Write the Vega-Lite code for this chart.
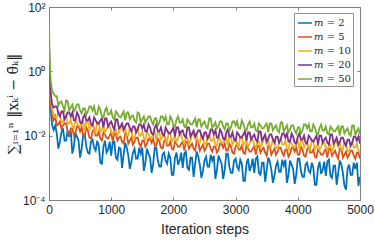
{
"$schema": "https://vega.github.io/schema/vega-lite/v6.json",
"width": 311, "height": 193,
"autosize": {"type": "none"},
"padding": {"left": 49, "top": 7, "right": 15, "bottom": 40},
"background": "white",
"config": {
 "view": {"stroke": "#808080", "strokeWidth": 1},
 "axis": {"domainColor": "#808080", "tickColor": "#808080", "labelColor": "#262626", "titleColor": "#262626", "labelFont": "Liberation Sans", "titleFont": "Liberation Sans", "labelFontSize": 12, "titleFontSize": 14, "titleFontWeight": "normal", "grid": false, "tickSize": -3, "labelPadding": 7, "labelFlush": false}
},
"data": {"values": [
{"m":2,"t":0,"v":4.9},{"m":2,"t":10,"v":0.28},{"m":2,"t":25,"v":0.075},{"m":2,"t":50,"v":0.021},{"m":2,"t":75,"v":0.015},
{"m":2,"t":100,"v":0.0208},{"m":2,"t":150,"v":0.00395},{"m":2,"t":200,"v":0.0126},{"m":2,"t":250,"v":0.007},{"m":2,"t":300,"v":0.0145},{"m":2,"t":350,"v":0.0145},{"m":2,"t":400,"v":0.00456},{"m":2,"t":450,"v":0.00931},{"m":2,"t":500,"v":0.00208},{"m":2,"t":550,"v":0.0109},
{"m":2,"t":600,"v":0.00456},{"m":2,"t":650,"v":0.00276},{"m":2,"t":700,"v":0.00751},{"m":2,"t":750,"v":0.00342},{"m":2,"t":800,"v":0.00489},{"m":2,"t":850,"v":0.00135},{"m":2,"t":900,"v":0.007},{"m":2,"t":950,"v":0.00368},{"m":2,"t":1000,"v":0.00239},{"m":2,"t":1050,"v":0.00651},
{"m":2,"t":1100,"v":0.0018},{"m":2,"t":1150,"v":0.00395},{"m":2,"t":1200,"v":0.00257},{"m":2,"t":1250,"v":0.00424},{"m":2,"t":1300,"v":0.000931},{"m":2,"t":1350,"v":0.00297},{"m":2,"t":1400,"v":0.00193},{"m":2,"t":1450,"v":0.00424},{"m":2,"t":1500,"v":0.00424},{"m":2,"t":1550,"v":0.00145},
{"m":2,"t":1600,"v":0.00276},{"m":2,"t":1650,"v":0.0007},{"m":2,"t":1700,"v":0.00424},{"m":2,"t":1750,"v":0.00168},{"m":2,"t":1800,"v":0.00109},{"m":2,"t":1850,"v":0.00297},{"m":2,"t":1900,"v":0.00135},{"m":2,"t":1950,"v":0.00208},{"m":2,"t":2000,"v":0.000606},{"m":2,"t":2050,"v":0.00297},
{"m":2,"t":2100,"v":0.00168},{"m":2,"t":2150,"v":0.001},{"m":2,"t":2200,"v":0.00319},{"m":2,"t":2250,"v":0.000867},{"m":2,"t":2300,"v":0.00208},{"m":2,"t":2350,"v":0.00135},{"m":2,"t":2400,"v":0.00223},{"m":2,"t":2450,"v":0.000489},{"m":2,"t":2500,"v":0.00168},{"m":2,"t":2550,"v":0.00109},
{"m":2,"t":2600,"v":0.00257},{"m":2,"t":2650,"v":0.00239},{"m":2,"t":2700,"v":0.000867},{"m":2,"t":2750,"v":0.0018},{"m":2,"t":2800,"v":0.000456},{"m":2,"t":2850,"v":0.00276},{"m":2,"t":2900,"v":0.00109},{"m":2,"t":2950,"v":0.0007},{"m":2,"t":3000,"v":0.00193},{"m":2,"t":3050,"v":0.000867},
{"m":2,"t":3100,"v":0.00135},{"m":2,"t":3150,"v":0.000395},{"m":2,"t":3200,"v":0.00193},{"m":2,"t":3250,"v":0.00109},{"m":2,"t":3300,"v":0.0007},{"m":2,"t":3350,"v":0.00223},{"m":2,"t":3400,"v":0.000606},{"m":2,"t":3450,"v":0.00145},{"m":2,"t":3500,"v":0.000867},{"m":2,"t":3550,"v":0.00156},
{"m":2,"t":3600,"v":0.000342},{"m":2,"t":3650,"v":0.00117},{"m":2,"t":3700,"v":0.000751},{"m":2,"t":3750,"v":0.0018},{"m":2,"t":3800,"v":0.0018},{"m":2,"t":3850,"v":0.000606},{"m":2,"t":3900,"v":0.00126},{"m":2,"t":3950,"v":0.000319},{"m":2,"t":4000,"v":0.00193},{"m":2,"t":4050,"v":0.000807},
{"m":2,"t":4100,"v":0.000526},{"m":2,"t":4150,"v":0.00145},{"m":2,"t":4200,"v":0.0007},{"m":2,"t":4250,"v":0.001},{"m":2,"t":4300,"v":0.000297},{"m":2,"t":4350,"v":0.00156},{"m":2,"t":4400,"v":0.000867},{"m":2,"t":4450,"v":0.000565},{"m":2,"t":4500,"v":0.0018},{"m":2,"t":4550,"v":0.000489},
{"m":2,"t":4600,"v":0.00117},{"m":2,"t":4650,"v":0.0007},{"m":2,"t":4700,"v":0.00126},{"m":2,"t":4750,"v":0.000276},{"m":2,"t":4800,"v":0.000931},{"m":2,"t":4850,"v":0.000606},{"m":2,"t":4900,"v":0.00145},{"m":2,"t":4950,"v":0.00145},{"m":2,"t":5000,"v":0.000526},
{"m":2,"t":125,"v":0.0117},{"m":2,"t":175,"v":0.00651},{"m":2,"t":225,"v":0.0168},{"m":2,"t":275,"v":0.007},{"m":2,"t":325,"v":0.00931},{"m":2,"t":375,"v":0.00276},{"m":2,"t":425,"v":0.0126},{"m":2,"t":475,"v":0.007},{"m":2,"t":525,"v":0.00395},{"m":2,"t":575,"v":0.0109},
{"m":2,"t":625,"v":0.00297},{"m":2,"t":675,"v":0.00651},{"m":2,"t":725,"v":0.00424},{"m":2,"t":775,"v":0.007},{"m":2,"t":825,"v":0.00145},{"m":2,"t":875,"v":0.00456},{"m":2,"t":925,"v":0.00297},{"m":2,"t":975,"v":0.00651},{"m":2,"t":1025,"v":0.00651},{"m":2,"t":1075,"v":0.00208},
{"m":2,"t":1125,"v":0.00424},{"m":2,"t":1175,"v":0.001},{"m":2,"t":1225,"v":0.00606},{"m":2,"t":1275,"v":0.00239},{"m":2,"t":1325,"v":0.00156},{"m":2,"t":1375,"v":0.00395},{"m":2,"t":1425,"v":0.00193},{"m":2,"t":1475,"v":0.00276},{"m":2,"t":1525,"v":0.000807},{"m":2,"t":1575,"v":0.00395},
{"m":2,"t":1625,"v":0.00208},{"m":2,"t":1675,"v":0.00135},{"m":2,"t":1725,"v":0.00424},{"m":2,"t":1775,"v":0.00109},{"m":2,"t":1825,"v":0.00257},{"m":2,"t":1875,"v":0.00168},{"m":2,"t":1925,"v":0.00276},{"m":2,"t":1975,"v":0.000606},{"m":2,"t":2025,"v":0.00208},{"m":2,"t":2075,"v":0.00126},
{"m":2,"t":2125,"v":0.00297},{"m":2,"t":2175,"v":0.00276},{"m":2,"t":2225,"v":0.001},{"m":2,"t":2275,"v":0.00208},{"m":2,"t":2325,"v":0.000526},{"m":2,"t":2375,"v":0.00319},{"m":2,"t":2425,"v":0.00126},{"m":2,"t":2475,"v":0.000807},{"m":2,"t":2525,"v":0.00223},{"m":2,"t":2575,"v":0.00109},
{"m":2,"t":2625,"v":0.00168},{"m":2,"t":2675,"v":0.000456},{"m":2,"t":2725,"v":0.00239},{"m":2,"t":2775,"v":0.00135},{"m":2,"t":2825,"v":0.000867},{"m":2,"t":2875,"v":0.00276},{"m":2,"t":2925,"v":0.0007},{"m":2,"t":2975,"v":0.00168},{"m":2,"t":3025,"v":0.00109},{"m":2,"t":3075,"v":0.0018},
{"m":2,"t":3125,"v":0.000395},{"m":2,"t":3175,"v":0.00135},{"m":2,"t":3225,"v":0.000807},{"m":2,"t":3275,"v":0.00193},{"m":2,"t":3325,"v":0.00193},{"m":2,"t":3375,"v":0.0007},{"m":2,"t":3425,"v":0.00145},{"m":2,"t":3475,"v":0.000368},{"m":2,"t":3525,"v":0.00208},{"m":2,"t":3575,"v":0.000867},
{"m":2,"t":3625,"v":0.000565},{"m":2,"t":3675,"v":0.00156},{"m":2,"t":3725,"v":0.000751},{"m":2,"t":3775,"v":0.00117},{"m":2,"t":3825,"v":0.000342},{"m":2,"t":3875,"v":0.00168},{"m":2,"t":3925,"v":0.000931},{"m":2,"t":3975,"v":0.000606},{"m":2,"t":4025,"v":0.00193},{"m":2,"t":4075,"v":0.000526},
{"m":2,"t":4125,"v":0.00126},{"m":2,"t":4175,"v":0.000807},{"m":2,"t":4225,"v":0.00145},{"m":2,"t":4275,"v":0.000297},{"m":2,"t":4325,"v":0.001},{"m":2,"t":4375,"v":0.000651},{"m":2,"t":4425,"v":0.00156},{"m":2,"t":4475,"v":0.00156},{"m":2,"t":4525,"v":0.000565},{"m":2,"t":4575,"v":0.00117},
{"m":2,"t":4625,"v":0.000297},{"m":2,"t":4675,"v":0.00168},{"m":2,"t":4725,"v":0.0007},{"m":2,"t":4775,"v":0.000208},{"m":2,"t":4825,"v":0.00126},{"m":2,"t":4875,"v":0.000606},{"m":2,"t":4925,"v":0.000931},{"m":2,"t":4975,"v":0.000276},

{"m":5,"t":0,"v":7},{"m":5,"t":10,"v":0.4},{"m":5,"t":25,"v":0.12},{"m":5,"t":50,"v":0.042},{"m":5,"t":75,"v":0.03},
{"m":5,"t":100,"v":0.0395},{"m":5,"t":150,"v":0.0223},{"m":5,"t":200,"v":0.0168},{"m":5,"t":250,"v":0.0239},{"m":5,"t":300,"v":0.0135},{"m":5,"t":350,"v":0.0168},{"m":5,"t":400,"v":0.01},{"m":5,"t":450,"v":0.0193},{"m":5,"t":500,"v":0.0135},{"m":5,"t":550,"v":0.01},
{"m":5,"t":600,"v":0.018},{"m":5,"t":650,"v":0.00867},{"m":5,"t":700,"v":0.0135},{"m":5,"t":750,"v":0.01},{"m":5,"t":800,"v":0.0135},{"m":5,"t":850,"v":0.007},{"m":5,"t":900,"v":0.0109},{"m":5,"t":950,"v":0.00807},{"m":5,"t":1000,"v":0.0126},{"m":5,"t":1050,"v":0.0117},
{"m":5,"t":1100,"v":0.007},{"m":5,"t":1150,"v":0.00931},{"m":5,"t":1200,"v":0.00565},{"m":5,"t":1250,"v":0.0109},{"m":5,"t":1300,"v":0.007},{"m":5,"t":1350,"v":0.00526},{"m":5,"t":1400,"v":0.00867},{"m":5,"t":1450,"v":0.00565},{"m":5,"t":1500,"v":0.007},{"m":5,"t":1550,"v":0.00456},
{"m":5,"t":1600,"v":0.00807},{"m":5,"t":1650,"v":0.00606},{"m":5,"t":1700,"v":0.00489},{"m":5,"t":1750,"v":0.00807},{"m":5,"t":1800,"v":0.00424},{"m":5,"t":1850,"v":0.00651},{"m":5,"t":1900,"v":0.00489},{"m":5,"t":1950,"v":0.00651},{"m":5,"t":2000,"v":0.00368},{"m":5,"t":2050,"v":0.00565},
{"m":5,"t":2100,"v":0.00456},{"m":5,"t":2150,"v":0.00651},{"m":5,"t":2200,"v":0.00651},{"m":5,"t":2250,"v":0.00395},{"m":5,"t":2300,"v":0.00565},{"m":5,"t":2350,"v":0.00342},{"m":5,"t":2400,"v":0.00651},{"m":5,"t":2450,"v":0.00424},{"m":5,"t":2500,"v":0.00342},{"m":5,"t":2550,"v":0.00565},
{"m":5,"t":2600,"v":0.00395},{"m":5,"t":2650,"v":0.00456},{"m":5,"t":2700,"v":0.00297},{"m":5,"t":2750,"v":0.00565},{"m":5,"t":2800,"v":0.00424},{"m":5,"t":2850,"v":0.00342},{"m":5,"t":2900,"v":0.00565},{"m":5,"t":2950,"v":0.00297},{"m":5,"t":3000,"v":0.00456},{"m":5,"t":3050,"v":0.00368},
{"m":5,"t":3100,"v":0.00489},{"m":5,"t":3150,"v":0.00276},{"m":5,"t":3200,"v":0.00395},{"m":5,"t":3250,"v":0.00319},{"m":5,"t":3300,"v":0.00489},{"m":5,"t":3350,"v":0.00489},{"m":5,"t":3400,"v":0.00297},{"m":5,"t":3450,"v":0.00424},{"m":5,"t":3500,"v":0.00239},{"m":5,"t":3550,"v":0.00489},
{"m":5,"t":3600,"v":0.00319},{"m":5,"t":3650,"v":0.00257},{"m":5,"t":3700,"v":0.00424},{"m":5,"t":3750,"v":0.00297},{"m":5,"t":3800,"v":0.00368},{"m":5,"t":3850,"v":0.00223},{"m":5,"t":3900,"v":0.00424},{"m":5,"t":3950,"v":0.00319},{"m":5,"t":4000,"v":0.00257},{"m":5,"t":4050,"v":0.00456},
{"m":5,"t":4100,"v":0.00239},{"m":5,"t":4150,"v":0.00368},{"m":5,"t":4200,"v":0.00297},{"m":5,"t":4250,"v":0.00368},{"m":5,"t":4300,"v":0.00208},{"m":5,"t":4350,"v":0.00319},{"m":5,"t":4400,"v":0.00257},{"m":5,"t":4450,"v":0.00395},{"m":5,"t":4500,"v":0.00395},{"m":5,"t":4550,"v":0.00239},
{"m":5,"t":4600,"v":0.00342},{"m":5,"t":4650,"v":0.00193},{"m":5,"t":4700,"v":0.00395},{"m":5,"t":4750,"v":0.00257},{"m":5,"t":4800,"v":0.00208},{"m":5,"t":4850,"v":0.00342},{"m":5,"t":4900,"v":0.00239},{"m":5,"t":4950,"v":0.00297},{"m":5,"t":5000,"v":0.00193},
{"m":5,"t":125,"v":0.0208},{"m":5,"t":175,"v":0.0276},{"m":5,"t":225,"v":0.0208},{"m":5,"t":275,"v":0.0239},{"m":5,"t":325,"v":0.0109},{"m":5,"t":375,"v":0.0168},{"m":5,"t":425,"v":0.0126},{"m":5,"t":475,"v":0.0193},{"m":5,"t":525,"v":0.018},{"m":5,"t":575,"v":0.01},
{"m":5,"t":625,"v":0.0145},{"m":5,"t":675,"v":0.00807},{"m":5,"t":725,"v":0.0168},{"m":5,"t":775,"v":0.01},{"m":5,"t":825,"v":0.00807},{"m":5,"t":875,"v":0.0126},{"m":5,"t":925,"v":0.00867},{"m":5,"t":975,"v":0.01},{"m":5,"t":1025,"v":0.00651},{"m":5,"t":1075,"v":0.0117},
{"m":5,"t":1125,"v":0.00867},{"m":5,"t":1175,"v":0.00651},{"m":5,"t":1225,"v":0.0117},{"m":5,"t":1275,"v":0.00565},{"m":5,"t":1325,"v":0.00867},{"m":5,"t":1375,"v":0.00651},{"m":5,"t":1425,"v":0.00867},{"m":5,"t":1475,"v":0.00456},{"m":5,"t":1525,"v":0.007},{"m":5,"t":1575,"v":0.00565},
{"m":5,"t":1625,"v":0.00807},{"m":5,"t":1675,"v":0.00807},{"m":5,"t":1725,"v":0.00489},{"m":5,"t":1775,"v":0.00651},{"m":5,"t":1825,"v":0.00395},{"m":5,"t":1875,"v":0.00807},{"m":5,"t":1925,"v":0.00489},{"m":5,"t":1975,"v":0.00395},{"m":5,"t":2025,"v":0.00651},{"m":5,"t":2075,"v":0.00456},
{"m":5,"t":2125,"v":0.00565},{"m":5,"t":2175,"v":0.00342},{"m":5,"t":2225,"v":0.00651},{"m":5,"t":2275,"v":0.00489},{"m":5,"t":2325,"v":0.00395},{"m":5,"t":2375,"v":0.007},{"m":5,"t":2425,"v":0.00342},{"m":5,"t":2475,"v":0.00526},{"m":5,"t":2525,"v":0.00424},{"m":5,"t":2575,"v":0.00565},
{"m":5,"t":2625,"v":0.00319},{"m":5,"t":2675,"v":0.00456},{"m":5,"t":2725,"v":0.00368},{"m":5,"t":2775,"v":0.00565},{"m":5,"t":2825,"v":0.00565},{"m":5,"t":2875,"v":0.00342},{"m":5,"t":2925,"v":0.00456},{"m":5,"t":2975,"v":0.00276},{"m":5,"t":3025,"v":0.00565},{"m":5,"t":3075,"v":0.00368},
{"m":5,"t":3125,"v":0.00297},{"m":5,"t":3175,"v":0.00489},{"m":5,"t":3225,"v":0.00319},{"m":5,"t":3275,"v":0.00395},{"m":5,"t":3325,"v":0.00257},{"m":5,"t":3375,"v":0.00489},{"m":5,"t":3425,"v":0.00368},{"m":5,"t":3475,"v":0.00297},{"m":5,"t":3525,"v":0.00489},{"m":5,"t":3575,"v":0.00257},
{"m":5,"t":3625,"v":0.00395},{"m":5,"t":3675,"v":0.00319},{"m":5,"t":3725,"v":0.00424},{"m":5,"t":3775,"v":0.00239},{"m":5,"t":3825,"v":0.00368},{"m":5,"t":3875,"v":0.00276},{"m":5,"t":3925,"v":0.00424},{"m":5,"t":3975,"v":0.00424},{"m":5,"t":4025,"v":0.00257},{"m":5,"t":4075,"v":0.00368},
{"m":5,"t":4125,"v":0.00223},{"m":5,"t":4175,"v":0.00456},{"m":5,"t":4225,"v":0.00297},{"m":5,"t":4275,"v":0.00223},{"m":5,"t":4325,"v":0.00368},{"m":5,"t":4375,"v":0.00257},{"m":5,"t":4425,"v":0.00319},{"m":5,"t":4475,"v":0.00208},{"m":5,"t":4525,"v":0.00395},{"m":5,"t":4575,"v":0.00297},
{"m":5,"t":4625,"v":0.00239},{"m":5,"t":4675,"v":0.00395},{"m":5,"t":4725,"v":0.00208},{"m":5,"t":4775,"v":0.00319},{"m":5,"t":4825,"v":0.00257},{"m":5,"t":4875,"v":0.00342},{"m":5,"t":4925,"v":0.00193},{"m":5,"t":4975,"v":0.00297},

{"m":10,"t":0,"v":7},{"m":10,"t":10,"v":0.56},{"m":10,"t":25,"v":0.17},{"m":10,"t":50,"v":0.07},{"m":10,"t":75,"v":0.045},
{"m":10,"t":100,"v":0.0368},{"m":10,"t":150,"v":0.0565},{"m":10,"t":200,"v":0.0276},{"m":10,"t":250,"v":0.0368},{"m":10,"t":300,"v":0.0239},{"m":10,"t":350,"v":0.0319},{"m":10,"t":400,"v":0.0168},{"m":10,"t":450,"v":0.0257},{"m":10,"t":500,"v":0.0193},{"m":10,"t":550,"v":0.0276},
{"m":10,"t":600,"v":0.0276},{"m":10,"t":650,"v":0.0156},{"m":10,"t":700,"v":0.0223},{"m":10,"t":750,"v":0.0126},{"m":10,"t":800,"v":0.0257},{"m":10,"t":850,"v":0.0156},{"m":10,"t":900,"v":0.0126},{"m":10,"t":950,"v":0.0193},{"m":10,"t":1000,"v":0.0135},{"m":10,"t":1050,"v":0.0156},
{"m":10,"t":1100,"v":0.01},{"m":10,"t":1150,"v":0.018},{"m":10,"t":1200,"v":0.0135},{"m":10,"t":1250,"v":0.01},{"m":10,"t":1300,"v":0.018},{"m":10,"t":1350,"v":0.00867},{"m":10,"t":1400,"v":0.0135},{"m":10,"t":1450,"v":0.01},{"m":10,"t":1500,"v":0.0135},{"m":10,"t":1550,"v":0.00751},
{"m":10,"t":1600,"v":0.0109},{"m":10,"t":1650,"v":0.00867},{"m":10,"t":1700,"v":0.0135},{"m":10,"t":1750,"v":0.0126},{"m":10,"t":1800,"v":0.00751},{"m":10,"t":1850,"v":0.0109},{"m":10,"t":1900,"v":0.00606},{"m":10,"t":1950,"v":0.0126},{"m":10,"t":2000,"v":0.00807},{"m":10,"t":2050,"v":0.00651},
{"m":10,"t":2100,"v":0.0109},{"m":10,"t":2150,"v":0.007},{"m":10,"t":2200,"v":0.00867},{"m":10,"t":2250,"v":0.00565},{"m":10,"t":2300,"v":0.0109},{"m":10,"t":2350,"v":0.00807},{"m":10,"t":2400,"v":0.00606},{"m":10,"t":2450,"v":0.0109},{"m":10,"t":2500,"v":0.00565},{"m":10,"t":2550,"v":0.00867},
{"m":10,"t":2600,"v":0.007},{"m":10,"t":2650,"v":0.00867},{"m":10,"t":2700,"v":0.00489},{"m":10,"t":2750,"v":0.00751},{"m":10,"t":2800,"v":0.00606},{"m":10,"t":2850,"v":0.00931},{"m":10,"t":2900,"v":0.00867},{"m":10,"t":2950,"v":0.00526},{"m":10,"t":3000,"v":0.00751},{"m":10,"t":3050,"v":0.00456},
{"m":10,"t":3100,"v":0.00931},{"m":10,"t":3150,"v":0.00606},{"m":10,"t":3200,"v":0.00456},{"m":10,"t":3250,"v":0.00751},{"m":10,"t":3300,"v":0.00526},{"m":10,"t":3350,"v":0.00651},{"m":10,"t":3400,"v":0.00424},{"m":10,"t":3450,"v":0.00807},{"m":10,"t":3500,"v":0.00565},{"m":10,"t":3550,"v":0.00456},
{"m":10,"t":3600,"v":0.00807},{"m":10,"t":3650,"v":0.00424},{"m":10,"t":3700,"v":0.00651},{"m":10,"t":3750,"v":0.00526},{"m":10,"t":3800,"v":0.007},{"m":10,"t":3850,"v":0.00368},{"m":10,"t":3900,"v":0.00565},{"m":10,"t":3950,"v":0.00456},{"m":10,"t":4000,"v":0.007},{"m":10,"t":4050,"v":0.007},
{"m":10,"t":4100,"v":0.00424},{"m":10,"t":4150,"v":0.00606},{"m":10,"t":4200,"v":0.00368},{"m":10,"t":4250,"v":0.007},{"m":10,"t":4300,"v":0.00456},{"m":10,"t":4350,"v":0.00368},{"m":10,"t":4400,"v":0.00606},{"m":10,"t":4450,"v":0.00424},{"m":10,"t":4500,"v":0.00526},{"m":10,"t":4550,"v":0.00342},
{"m":10,"t":4600,"v":0.00651},{"m":10,"t":4650,"v":0.00456},{"m":10,"t":4700,"v":0.00368},{"m":10,"t":4750,"v":0.00651},{"m":10,"t":4800,"v":0.00342},{"m":10,"t":4850,"v":0.00526},{"m":10,"t":4900,"v":0.00424},{"m":10,"t":4950,"v":0.00565},{"m":10,"t":5000,"v":0.00319},
{"m":10,"t":125,"v":0.0368},{"m":10,"t":175,"v":0.0456},{"m":10,"t":225,"v":0.0257},{"m":10,"t":275,"v":0.0456},{"m":10,"t":325,"v":0.0239},{"m":10,"t":375,"v":0.0193},{"m":10,"t":425,"v":0.0297},{"m":10,"t":475,"v":0.0208},{"m":10,"t":525,"v":0.0239},{"m":10,"t":575,"v":0.0145},
{"m":10,"t":625,"v":0.0276},{"m":10,"t":675,"v":0.0193},{"m":10,"t":725,"v":0.0156},{"m":10,"t":775,"v":0.0257},{"m":10,"t":825,"v":0.0135},{"m":10,"t":875,"v":0.0193},{"m":10,"t":925,"v":0.0156},{"m":10,"t":975,"v":0.0193},{"m":10,"t":1025,"v":0.0109},{"m":10,"t":1075,"v":0.0156},
{"m":10,"t":1125,"v":0.0126},{"m":10,"t":1175,"v":0.018},{"m":10,"t":1225,"v":0.018},{"m":10,"t":1275,"v":0.01},{"m":10,"t":1325,"v":0.0145},{"m":10,"t":1375,"v":0.00807},{"m":10,"t":1425,"v":0.0168},{"m":10,"t":1475,"v":0.01},{"m":10,"t":1525,"v":0.00807},{"m":10,"t":1575,"v":0.0135},
{"m":10,"t":1625,"v":0.00867},{"m":10,"t":1675,"v":0.0109},{"m":10,"t":1725,"v":0.007},{"m":10,"t":1775,"v":0.0126},{"m":10,"t":1825,"v":0.00931},{"m":10,"t":1875,"v":0.00751},{"m":10,"t":1925,"v":0.0126},{"m":10,"t":1975,"v":0.00651},{"m":10,"t":2025,"v":0.01},{"m":10,"t":2075,"v":0.00807},
{"m":10,"t":2125,"v":0.0109},{"m":10,"t":2175,"v":0.00565},{"m":10,"t":2225,"v":0.00867},{"m":10,"t":2275,"v":0.007},{"m":10,"t":2325,"v":0.0109},{"m":10,"t":2375,"v":0.0109},{"m":10,"t":2425,"v":0.00606},{"m":10,"t":2475,"v":0.00867},{"m":10,"t":2525,"v":0.00526},{"m":10,"t":2575,"v":0.0109},
{"m":10,"t":2625,"v":0.007},{"m":10,"t":2675,"v":0.00526},{"m":10,"t":2725,"v":0.00867},{"m":10,"t":2775,"v":0.00606},{"m":10,"t":2825,"v":0.00751},{"m":10,"t":2875,"v":0.00489},{"m":10,"t":2925,"v":0.00867},{"m":10,"t":2975,"v":0.00651},{"m":10,"t":3025,"v":0.00526},{"m":10,"t":3075,"v":0.00931},
{"m":10,"t":3125,"v":0.00489},{"m":10,"t":3175,"v":0.00751},{"m":10,"t":3225,"v":0.00565},{"m":10,"t":3275,"v":0.00751},{"m":10,"t":3325,"v":0.00424},{"m":10,"t":3375,"v":0.00651},{"m":10,"t":3425,"v":0.00526},{"m":10,"t":3475,"v":0.00807},{"m":10,"t":3525,"v":0.00751},{"m":10,"t":3575,"v":0.00456},
{"m":10,"t":3625,"v":0.00651},{"m":10,"t":3675,"v":0.00395},{"m":10,"t":3725,"v":0.00807},{"m":10,"t":3775,"v":0.00526},{"m":10,"t":3825,"v":0.00424},{"m":10,"t":3875,"v":0.00651},{"m":10,"t":3925,"v":0.00456},{"m":10,"t":3975,"v":0.00565},{"m":10,"t":4025,"v":0.00368},{"m":10,"t":4075,"v":0.007},
{"m":10,"t":4125,"v":0.00526},{"m":10,"t":4175,"v":0.00424},{"m":10,"t":4225,"v":0.00751},{"m":10,"t":4275,"v":0.00368},{"m":10,"t":4325,"v":0.00565},{"m":10,"t":4375,"v":0.00456},{"m":10,"t":4425,"v":0.00606},{"m":10,"t":4475,"v":0.00342},{"m":10,"t":4525,"v":0.00526},{"m":10,"t":4575,"v":0.00424},
{"m":10,"t":4625,"v":0.00651},{"m":10,"t":4675,"v":0.00606},{"m":10,"t":4725,"v":0.00368},{"m":10,"t":4775,"v":0.00526},{"m":10,"t":4825,"v":0.00319},{"m":10,"t":4875,"v":0.00651},{"m":10,"t":4925,"v":0.00424},{"m":10,"t":4975,"v":0.00342},

{"m":20,"t":0,"v":10},{"m":20,"t":10,"v":0.8},{"m":20,"t":25,"v":0.24},{"m":20,"t":50,"v":0.093},{"m":20,"t":75,"v":0.075},
{"m":20,"t":100,"v":0.0807},{"m":20,"t":150,"v":0.0489},{"m":20,"t":200,"v":0.0565},{"m":20,"t":250,"v":0.0319},{"m":20,"t":300,"v":0.0526},{"m":20,"t":350,"v":0.0395},{"m":20,"t":400,"v":0.0297},{"m":20,"t":450,"v":0.0526},{"m":20,"t":500,"v":0.0257},{"m":20,"t":550,"v":0.0368},
{"m":20,"t":600,"v":0.0297},{"m":20,"t":650,"v":0.0368},{"m":20,"t":700,"v":0.0208},{"m":20,"t":750,"v":0.0297},{"m":20,"t":800,"v":0.0239},{"m":20,"t":850,"v":0.0342},{"m":20,"t":900,"v":0.0342},{"m":20,"t":950,"v":0.0193},{"m":20,"t":1000,"v":0.0276},{"m":20,"t":1050,"v":0.0156},
{"m":20,"t":1100,"v":0.0319},{"m":20,"t":1150,"v":0.0193},{"m":20,"t":1200,"v":0.0156},{"m":20,"t":1250,"v":0.0239},{"m":20,"t":1300,"v":0.0168},{"m":20,"t":1350,"v":0.0193},{"m":20,"t":1400,"v":0.0126},{"m":20,"t":1450,"v":0.0223},{"m":20,"t":1500,"v":0.0168},{"m":20,"t":1550,"v":0.0135},
{"m":20,"t":1600,"v":0.0223},{"m":20,"t":1650,"v":0.0117},{"m":20,"t":1700,"v":0.018},{"m":20,"t":1750,"v":0.0135},{"m":20,"t":1800,"v":0.018},{"m":20,"t":1850,"v":0.01},{"m":20,"t":1900,"v":0.0145},{"m":20,"t":1950,"v":0.0117},{"m":20,"t":2000,"v":0.018},{"m":20,"t":2050,"v":0.018},
{"m":20,"t":2100,"v":0.0109},{"m":20,"t":2150,"v":0.0145},{"m":20,"t":2200,"v":0.00867},{"m":20,"t":2250,"v":0.018},{"m":20,"t":2300,"v":0.0117},{"m":20,"t":2350,"v":0.00931},{"m":20,"t":2400,"v":0.0145},{"m":20,"t":2450,"v":0.01},{"m":20,"t":2500,"v":0.0126},{"m":20,"t":2550,"v":0.00807},
{"m":20,"t":2600,"v":0.0156},{"m":20,"t":2650,"v":0.0109},{"m":20,"t":2700,"v":0.00867},{"m":20,"t":2750,"v":0.0156},{"m":20,"t":2800,"v":0.00807},{"m":20,"t":2850,"v":0.0126},{"m":20,"t":2900,"v":0.00931},{"m":20,"t":2950,"v":0.0126},{"m":20,"t":3000,"v":0.007},{"m":20,"t":3050,"v":0.0109},
{"m":20,"t":3100,"v":0.00867},{"m":20,"t":3150,"v":0.0135},{"m":20,"t":3200,"v":0.0126},{"m":20,"t":3250,"v":0.00751},{"m":20,"t":3300,"v":0.0109},{"m":20,"t":3350,"v":0.00651},{"m":20,"t":3400,"v":0.0135},{"m":20,"t":3450,"v":0.00867},{"m":20,"t":3500,"v":0.00651},{"m":20,"t":3550,"v":0.0109},
{"m":20,"t":3600,"v":0.00751},{"m":20,"t":3650,"v":0.00931},{"m":20,"t":3700,"v":0.00606},{"m":20,"t":3750,"v":0.0117},{"m":20,"t":3800,"v":0.00867},{"m":20,"t":3850,"v":0.00651},{"m":20,"t":3900,"v":0.0117},{"m":20,"t":3950,"v":0.00606},{"m":20,"t":4000,"v":0.00931},{"m":20,"t":4050,"v":0.00751},
{"m":20,"t":4100,"v":0.01},{"m":20,"t":4150,"v":0.00565},{"m":20,"t":4200,"v":0.00867},{"m":20,"t":4250,"v":0.00651},{"m":20,"t":4300,"v":0.01},{"m":20,"t":4350,"v":0.01},{"m":20,"t":4400,"v":0.00606},{"m":20,"t":4450,"v":0.00867},{"m":20,"t":4500,"v":0.00526},{"m":20,"t":4550,"v":0.0109},
{"m":20,"t":4600,"v":0.007},{"m":20,"t":4650,"v":0.00526},{"m":20,"t":4700,"v":0.00867},{"m":20,"t":4750,"v":0.00606},{"m":20,"t":4800,"v":0.00751},{"m":20,"t":4850,"v":0.00489},{"m":20,"t":4900,"v":0.00931},{"m":20,"t":4950,"v":0.007},{"m":20,"t":5000,"v":0.00565},
{"m":20,"t":125,"v":0.0807},{"m":20,"t":175,"v":0.0395},{"m":20,"t":225,"v":0.0565},{"m":20,"t":275,"v":0.0395},{"m":20,"t":325,"v":0.0526},{"m":20,"t":375,"v":0.0526},{"m":20,"t":425,"v":0.0297},{"m":20,"t":475,"v":0.0424},{"m":20,"t":525,"v":0.0239},{"m":20,"t":575,"v":0.0456},
{"m":20,"t":625,"v":0.0297},{"m":20,"t":675,"v":0.0223},{"m":20,"t":725,"v":0.0368},{"m":20,"t":775,"v":0.0239},{"m":20,"t":825,"v":0.0297},{"m":20,"t":875,"v":0.018},{"m":20,"t":925,"v":0.0342},{"m":20,"t":975,"v":0.0239},{"m":20,"t":1025,"v":0.0193},{"m":20,"t":1075,"v":0.0319},
{"m":20,"t":1125,"v":0.0168},{"m":20,"t":1175,"v":0.0239},{"m":20,"t":1225,"v":0.0193},{"m":20,"t":1275,"v":0.0239},{"m":20,"t":1325,"v":0.0135},{"m":20,"t":1375,"v":0.0193},{"m":20,"t":1425,"v":0.0156},{"m":20,"t":1475,"v":0.0223},{"m":20,"t":1525,"v":0.0223},{"m":20,"t":1575,"v":0.0135},
{"m":20,"t":1625,"v":0.018},{"m":20,"t":1675,"v":0.0109},{"m":20,"t":1725,"v":0.0223},{"m":20,"t":1775,"v":0.0135},{"m":20,"t":1825,"v":0.0109},{"m":20,"t":1875,"v":0.018},{"m":20,"t":1925,"v":0.0117},{"m":20,"t":1975,"v":0.0145},{"m":20,"t":2025,"v":0.00931},{"m":20,"t":2075,"v":0.018},
{"m":20,"t":2125,"v":0.0135},{"m":20,"t":2175,"v":0.01},{"m":20,"t":2225,"v":0.018},{"m":20,"t":2275,"v":0.00931},{"m":20,"t":2325,"v":0.0145},{"m":20,"t":2375,"v":0.0117},{"m":20,"t":2425,"v":0.0145},{"m":20,"t":2475,"v":0.00807},{"m":20,"t":2525,"v":0.0126},{"m":20,"t":2575,"v":0.01},
{"m":20,"t":2625,"v":0.0156},{"m":20,"t":2675,"v":0.0145},{"m":20,"t":2725,"v":0.00867},{"m":20,"t":2775,"v":0.0126},{"m":20,"t":2825,"v":0.00751},{"m":20,"t":2875,"v":0.0156},{"m":20,"t":2925,"v":0.00931},{"m":20,"t":2975,"v":0.00751},{"m":20,"t":3025,"v":0.0126},{"m":20,"t":3075,"v":0.00867},
{"m":20,"t":3125,"v":0.0109},{"m":20,"t":3175,"v":0.007},{"m":20,"t":3225,"v":0.0126},{"m":20,"t":3275,"v":0.00931},{"m":20,"t":3325,"v":0.00751},{"m":20,"t":3375,"v":0.0135},{"m":20,"t":3425,"v":0.007},{"m":20,"t":3475,"v":0.0109},{"m":20,"t":3525,"v":0.00807},{"m":20,"t":3575,"v":0.0109},
{"m":20,"t":3625,"v":0.00606},{"m":20,"t":3675,"v":0.00931},{"m":20,"t":3725,"v":0.00751},{"m":20,"t":3775,"v":0.0117},{"m":20,"t":3825,"v":0.0117},{"m":20,"t":3875,"v":0.00651},{"m":20,"t":3925,"v":0.00931},{"m":20,"t":3975,"v":0.00565},{"m":20,"t":4025,"v":0.0117},{"m":20,"t":4075,"v":0.00751},
{"m":20,"t":4125,"v":0.00606},{"m":20,"t":4175,"v":0.01},{"m":20,"t":4225,"v":0.007},{"m":20,"t":4275,"v":0.00807},{"m":20,"t":4325,"v":0.00526},{"m":20,"t":4375,"v":0.01},{"m":20,"t":4425,"v":0.00751},{"m":20,"t":4475,"v":0.00606},{"m":20,"t":4525,"v":0.0109},{"m":20,"t":4575,"v":0.00565},
{"m":20,"t":4625,"v":0.00867},{"m":20,"t":4675,"v":0.00651},{"m":20,"t":4725,"v":0.00867},{"m":20,"t":4775,"v":0.00489},{"m":20,"t":4825,"v":0.00751},{"m":20,"t":4875,"v":0.00606},{"m":20,"t":4925,"v":0.00931},{"m":20,"t":4975,"v":0.00931},

{"m":50,"t":0,"v":40},{"m":50,"t":10,"v":2.4},{"m":50,"t":25,"v":0.55},{"m":50,"t":50,"v":0.24},{"m":50,"t":75,"v":0.2},
{"m":50,"t":100,"v":0.168},{"m":50,"t":150,"v":0.0867},{"m":50,"t":200,"v":0.117},{"m":50,"t":250,"v":0.0606},{"m":50,"t":300,"v":0.117},{"m":50,"t":350,"v":0.0751},{"m":50,"t":400,"v":0.0565},{"m":50,"t":450,"v":0.0931},{"m":50,"t":500,"v":0.0606},{"m":50,"t":550,"v":0.07},
{"m":50,"t":600,"v":0.0456},{"m":50,"t":650,"v":0.0807},{"m":50,"t":700,"v":0.0606},{"m":50,"t":750,"v":0.0456},{"m":50,"t":800,"v":0.0807},{"m":50,"t":850,"v":0.0395},{"m":50,"t":900,"v":0.0606},{"m":50,"t":950,"v":0.0456},{"m":50,"t":1000,"v":0.0606},{"m":50,"t":1050,"v":0.0319},
{"m":50,"t":1100,"v":0.0489},{"m":50,"t":1150,"v":0.0368},{"m":50,"t":1200,"v":0.0565},{"m":50,"t":1250,"v":0.0526},{"m":50,"t":1300,"v":0.0319},{"m":50,"t":1350,"v":0.0424},{"m":50,"t":1400,"v":0.0257},{"m":50,"t":1450,"v":0.0489},{"m":50,"t":1500,"v":0.0319},{"m":50,"t":1550,"v":0.0257},
{"m":50,"t":1600,"v":0.0395},{"m":50,"t":1650,"v":0.0276},{"m":50,"t":1700,"v":0.0342},{"m":50,"t":1750,"v":0.0208},{"m":50,"t":1800,"v":0.0395},{"m":50,"t":1850,"v":0.0297},{"m":50,"t":1900,"v":0.0223},{"m":50,"t":1950,"v":0.0395},{"m":50,"t":2000,"v":0.0208},{"m":50,"t":2050,"v":0.0319},
{"m":50,"t":2100,"v":0.0257},{"m":50,"t":2150,"v":0.0319},{"m":50,"t":2200,"v":0.018},{"m":50,"t":2250,"v":0.0276},{"m":50,"t":2300,"v":0.0223},{"m":50,"t":2350,"v":0.0342},{"m":50,"t":2400,"v":0.0319},{"m":50,"t":2450,"v":0.0193},{"m":50,"t":2500,"v":0.0276},{"m":50,"t":2550,"v":0.0168},
{"m":50,"t":2600,"v":0.0342},{"m":50,"t":2650,"v":0.0208},{"m":50,"t":2700,"v":0.0168},{"m":50,"t":2750,"v":0.0276},{"m":50,"t":2800,"v":0.0193},{"m":50,"t":2850,"v":0.0239},{"m":50,"t":2900,"v":0.0145},{"m":50,"t":2950,"v":0.0276},{"m":50,"t":3000,"v":0.0208},{"m":50,"t":3050,"v":0.0168},
{"m":50,"t":3100,"v":0.0297},{"m":50,"t":3150,"v":0.0156},{"m":50,"t":3200,"v":0.0223},{"m":50,"t":3250,"v":0.018},{"m":50,"t":3300,"v":0.0239},{"m":50,"t":3350,"v":0.0135},{"m":50,"t":3400,"v":0.0208},{"m":50,"t":3450,"v":0.0168},{"m":50,"t":3500,"v":0.0239},{"m":50,"t":3550,"v":0.0239},
{"m":50,"t":3600,"v":0.0145},{"m":50,"t":3650,"v":0.0208},{"m":50,"t":3700,"v":0.0126},{"m":50,"t":3750,"v":0.0257},{"m":50,"t":3800,"v":0.0168},{"m":50,"t":3850,"v":0.0126},{"m":50,"t":3900,"v":0.0208},{"m":50,"t":3950,"v":0.0145},{"m":50,"t":4000,"v":0.018},{"m":50,"t":4050,"v":0.0117},
{"m":50,"t":4100,"v":0.0223},{"m":50,"t":4150,"v":0.0168},{"m":50,"t":4200,"v":0.0135},{"m":50,"t":4250,"v":0.0223},{"m":50,"t":4300,"v":0.0117},{"m":50,"t":4350,"v":0.018},{"m":50,"t":4400,"v":0.0145},{"m":50,"t":4450,"v":0.0193},{"m":50,"t":4500,"v":0.0109},{"m":50,"t":4550,"v":0.0168},
{"m":50,"t":4600,"v":0.0135},{"m":50,"t":4650,"v":0.0193},{"m":50,"t":4700,"v":0.0193},{"m":50,"t":4750,"v":0.0117},{"m":50,"t":4800,"v":0.0168},{"m":50,"t":4850,"v":0.01},{"m":50,"t":4900,"v":0.0208},{"m":50,"t":4950,"v":0.0135},{"m":50,"t":5000,"v":0.0109},
{"m":50,"t":125,"v":0.168},{"m":50,"t":175,"v":0.109},{"m":50,"t":225,"v":0.0807},{"m":50,"t":275,"v":0.126},{"m":50,"t":325,"v":0.0606},{"m":50,"t":375,"v":0.0931},{"m":50,"t":425,"v":0.07},{"m":50,"t":475,"v":0.0931},{"m":50,"t":525,"v":0.0489},{"m":50,"t":575,"v":0.07},
{"m":50,"t":625,"v":0.0565},{"m":50,"t":675,"v":0.0807},{"m":50,"t":725,"v":0.0807},{"m":50,"t":775,"v":0.0456},{"m":50,"t":825,"v":0.0651},{"m":50,"t":875,"v":0.0368},{"m":50,"t":925,"v":0.0751},{"m":50,"t":975,"v":0.0456},{"m":50,"t":1025,"v":0.0368},{"m":50,"t":1075,"v":0.0565},
{"m":50,"t":1125,"v":0.0395},{"m":50,"t":1175,"v":0.0456},{"m":50,"t":1225,"v":0.0297},{"m":50,"t":1275,"v":0.0526},{"m":50,"t":1325,"v":0.0395},{"m":50,"t":1375,"v":0.0297},{"m":50,"t":1425,"v":0.0526},{"m":50,"t":1475,"v":0.0257},{"m":50,"t":1525,"v":0.0395},{"m":50,"t":1575,"v":0.0319},
{"m":50,"t":1625,"v":0.0395},{"m":50,"t":1675,"v":0.0223},{"m":50,"t":1725,"v":0.0342},{"m":50,"t":1775,"v":0.0257},{"m":50,"t":1825,"v":0.0395},{"m":50,"t":1875,"v":0.0395},{"m":50,"t":1925,"v":0.0223},{"m":50,"t":1975,"v":0.0319},{"m":50,"t":2025,"v":0.0193},{"m":50,"t":2075,"v":0.0395},
{"m":50,"t":2125,"v":0.0257},{"m":50,"t":2175,"v":0.0193},{"m":50,"t":2225,"v":0.0319},{"m":50,"t":2275,"v":0.0223},{"m":50,"t":2325,"v":0.0276},{"m":50,"t":2375,"v":0.018},{"m":50,"t":2425,"v":0.0319},{"m":50,"t":2475,"v":0.0239},{"m":50,"t":2525,"v":0.0193},{"m":50,"t":2575,"v":0.0342},
{"m":50,"t":2625,"v":0.018},{"m":50,"t":2675,"v":0.0257},{"m":50,"t":2725,"v":0.0208},{"m":50,"t":2775,"v":0.0276},{"m":50,"t":2825,"v":0.0156},{"m":50,"t":2875,"v":0.0239},{"m":50,"t":2925,"v":0.018},{"m":50,"t":2975,"v":0.0276},{"m":50,"t":3025,"v":0.0276},{"m":50,"t":3075,"v":0.0168},
{"m":50,"t":3125,"v":0.0239},{"m":50,"t":3175,"v":0.0145},{"m":50,"t":3225,"v":0.0276},{"m":50,"t":3275,"v":0.018},{"m":50,"t":3325,"v":0.0145},{"m":50,"t":3375,"v":0.0239},{"m":50,"t":3425,"v":0.0168},{"m":50,"t":3475,"v":0.0208},{"m":50,"t":3525,"v":0.0126},{"m":50,"t":3575,"v":0.0239},
{"m":50,"t":3625,"v":0.018},{"m":50,"t":3675,"v":0.0145},{"m":50,"t":3725,"v":0.0257},{"m":50,"t":3775,"v":0.0135},{"m":50,"t":3825,"v":0.0208},{"m":50,"t":3875,"v":0.0156},{"m":50,"t":3925,"v":0.0208},{"m":50,"t":3975,"v":0.0117},{"m":50,"t":4025,"v":0.018},{"m":50,"t":4075,"v":0.0145},
{"m":50,"t":4125,"v":0.0223},{"m":50,"t":4175,"v":0.0223},{"m":50,"t":4225,"v":0.0135},{"m":50,"t":4275,"v":0.018},{"m":50,"t":4325,"v":0.0109},{"m":50,"t":4375,"v":0.0223},{"m":50,"t":4425,"v":0.0145},{"m":50,"t":4475,"v":0.0117},{"m":50,"t":4525,"v":0.0193},{"m":50,"t":4575,"v":0.0135},
{"m":50,"t":4625,"v":0.0168},{"m":50,"t":4675,"v":0.01},{"m":50,"t":4725,"v":0.0193},{"m":50,"t":4775,"v":0.0145},{"m":50,"t":4825,"v":0.0117},{"m":50,"t":4875,"v":0.0208},{"m":50,"t":4925,"v":0.0109},{"m":50,"t":4975,"v":0.0168}
]},
"layer": [
 {
  "mark": {"type": "line", "strokeWidth": 1.8, "clip": true, "interpolate": "linear"},
  "encoding": {
   "x": {"field": "t", "type": "quantitative", "scale": {"domain": [0, 5000], "nice": false, "zero": false},
         "axis": {"orient": "bottom", "values": [0, 1000, 2000, 3000, 4000, 5000], "format": "d", "title": "Iteration steps", "titlePadding": 7}},
   "y": {"field": "v", "type": "quantitative", "scale": {"type": "log", "domain": [0.0001, 100], "nice": false},
         "axis": {"orient": "left", "values": [0.0001, 0.01, 1, 100], "labelExpr": "datum.value > 10 ? '10²' : datum.value > 0.1 ? '10⁰' : datum.value > 0.001 ? '10⁻²' : '10⁻⁴'",
                  "title": "∑ᵢ₌₁ⁿ ‖xₖⁱ − θ̄ₖ‖", "titleFont": "DejaVu Serif", "titleFontSize": 14, "titlePadding": 2}},
   "color": {"field": "m", "type": "nominal",
     "scale": {"domain": [2, 5, 10, 20, 50], "range": ["#0072BD", "#D95319", "#EDB120", "#7E2F8E", "#77AC30"]},
     "legend": {"orient": "none", "legendX": 245, "legendY": 6, "title": null, "strokeColor": "#909090", "fillColor": "white", "padding": 2,
                "symbolType": "stroke", "symbolSize": 196, "symbolStrokeWidth": 1.5, "symbolOffset": 1,
                "labelExpr": "'𝑚 = ' + datum.label", "labelFont": "DejaVu Serif", "labelFontSize": 10, "labelColor": "#262626", "labelOffset": 1, "rowPadding": 1}}
  }
 },
 {
  "mark": {"type": "line", "opacity": 0},
  "encoding": {
   "x": {"field": "t", "type": "quantitative", "scale": {"domain": [0, 5000], "nice": false, "zero": false},
         "axis": {"orient": "top", "values": [0, 1000, 2000, 3000, 4000, 5000], "labels": false, "domain": false, "title": null}},
   "y": {"field": "v", "type": "quantitative", "scale": {"type": "log", "domain": [0.0001, 100], "nice": false},
         "axis": {"orient": "right", "values": [0.0001, 0.01, 1, 100], "labels": false, "domain": false, "title": null}},
   "detail": {"field": "m"}
  }
 }
],
"resolve": {"axis": {"x": "independent", "y": "independent"}}
}
